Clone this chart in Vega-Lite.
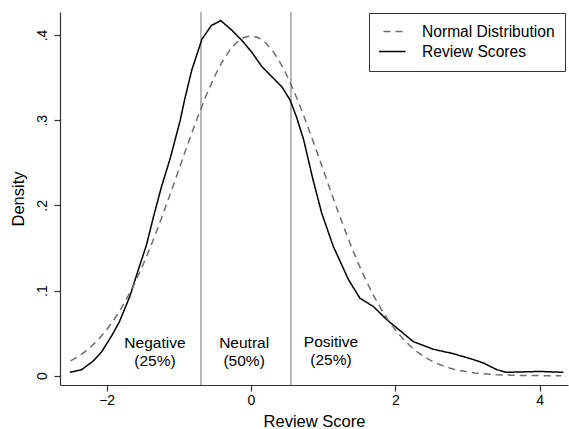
{
  "$schema": "https://vega.github.io/schema/vega-lite/v6.json",
  "width": 508,
  "height": 373,
  "autosize": "none",
  "padding": {"left": 60, "top": 12, "right": 1, "bottom": 44},
  "background": "white",
  "config": {
    "view": {"stroke": null},
    "font": "Liberation Sans",
    "axis": {
      "domainColor": "#333",
      "domainWidth": 1.2,
      "tickColor": "#333",
      "tickWidth": 1.2,
      "tickSize": 6,
      "grid": false,
      "labelFont": "Liberation Sans",
      "labelFontSize": 14,
      "labelColor": "#000",
      "titleFont": "Liberation Sans",
      "titleFontSize": 16.5,
      "titleFontWeight": "normal",
      "titleColor": "#000",
      "labelOverlap": false
    },
    "legend": {
      "orient": "none",
      "legendX": 309,
      "legendY": 1,
      "direction": "vertical",
      "strokeColor": "#333",
      "fillColor": "white",
      "padding": 10,
      "symbolType": "stroke",
      "symbolSize": 1156,
      "symbolStrokeWidth": 1.5,
      "symbolOffset": -8.5,
      "labelOffset": 15.5,
      "clipHeight": 17,
      "rowPadding": 2,
      "labelFont": "Liberation Sans",
      "labelFontSize": 15.6,
      "labelColor": "#000",
      "labelLimit": 300
    }
  },
  "datasets": {
    "curves": [
      {"x": -2.51, "y": 0.004, "series": "Review Scores"},
      {"x": -2.35, "y": 0.007, "series": "Review Scores"},
      {"x": -2.19, "y": 0.017, "series": "Review Scores"},
      {"x": -2.07, "y": 0.028, "series": "Review Scores"},
      {"x": -1.93, "y": 0.047, "series": "Review Scores"},
      {"x": -1.82, "y": 0.064, "series": "Review Scores"},
      {"x": -1.68, "y": 0.093, "series": "Review Scores"},
      {"x": -1.54, "y": 0.130, "series": "Review Scores"},
      {"x": -1.45, "y": 0.153, "series": "Review Scores"},
      {"x": -1.35, "y": 0.187, "series": "Review Scores"},
      {"x": -1.24, "y": 0.222, "series": "Review Scores"},
      {"x": -1.12, "y": 0.255, "series": "Review Scores"},
      {"x": -0.98, "y": 0.300, "series": "Review Scores"},
      {"x": -0.92, "y": 0.324, "series": "Review Scores"},
      {"x": -0.82, "y": 0.359, "series": "Review Scores"},
      {"x": -0.68, "y": 0.395, "series": "Review Scores"},
      {"x": -0.55, "y": 0.411, "series": "Review Scores"},
      {"x": -0.42, "y": 0.417, "series": "Review Scores"},
      {"x": -0.27, "y": 0.406, "series": "Review Scores"},
      {"x": -0.13, "y": 0.394, "series": "Review Scores"},
      {"x": 0.01, "y": 0.380, "series": "Review Scores"},
      {"x": 0.15, "y": 0.363, "series": "Review Scores"},
      {"x": 0.29, "y": 0.351, "series": "Review Scores"},
      {"x": 0.43, "y": 0.339, "series": "Review Scores"},
      {"x": 0.54, "y": 0.324, "series": "Review Scores"},
      {"x": 0.63, "y": 0.304, "series": "Review Scores"},
      {"x": 0.73, "y": 0.277, "series": "Review Scores"},
      {"x": 0.86, "y": 0.230, "series": "Review Scores"},
      {"x": 0.98, "y": 0.191, "series": "Review Scores"},
      {"x": 1.14, "y": 0.152, "series": "Review Scores"},
      {"x": 1.35, "y": 0.113, "series": "Review Scores"},
      {"x": 1.51, "y": 0.091, "series": "Review Scores"},
      {"x": 1.70, "y": 0.081, "series": "Review Scores"},
      {"x": 1.88, "y": 0.066, "series": "Review Scores"},
      {"x": 2.25, "y": 0.040, "series": "Review Scores"},
      {"x": 2.53, "y": 0.031, "series": "Review Scores"},
      {"x": 2.80, "y": 0.026, "series": "Review Scores"},
      {"x": 3.08, "y": 0.019, "series": "Review Scores"},
      {"x": 3.22, "y": 0.015, "series": "Review Scores"},
      {"x": 3.41, "y": 0.007, "series": "Review Scores"},
      {"x": 3.54, "y": 0.004, "series": "Review Scores"},
      {"x": 4.01, "y": 0.005, "series": "Review Scores"},
      {"x": 4.33, "y": 0.004, "series": "Review Scores"},
      {"x": -2.5, "y": 0.0175, "series": "Normal Distribution"},
      {"x": -2.4, "y": 0.0224, "series": "Normal Distribution"},
      {"x": -2.3, "y": 0.0283, "series": "Normal Distribution"},
      {"x": -2.2, "y": 0.0355, "series": "Normal Distribution"},
      {"x": -2.1, "y": 0.0440, "series": "Normal Distribution"},
      {"x": -2.0, "y": 0.0540, "series": "Normal Distribution"},
      {"x": -1.9, "y": 0.0656, "series": "Normal Distribution"},
      {"x": -1.8, "y": 0.0790, "series": "Normal Distribution"},
      {"x": -1.7, "y": 0.0940, "series": "Normal Distribution"},
      {"x": -1.6, "y": 0.1109, "series": "Normal Distribution"},
      {"x": -1.5, "y": 0.1295, "series": "Normal Distribution"},
      {"x": -1.4, "y": 0.1497, "series": "Normal Distribution"},
      {"x": -1.3, "y": 0.1714, "series": "Normal Distribution"},
      {"x": -1.2, "y": 0.1942, "series": "Normal Distribution"},
      {"x": -1.1, "y": 0.2179, "series": "Normal Distribution"},
      {"x": -1.0, "y": 0.2420, "series": "Normal Distribution"},
      {"x": -0.9, "y": 0.2661, "series": "Normal Distribution"},
      {"x": -0.8, "y": 0.2897, "series": "Normal Distribution"},
      {"x": -0.7, "y": 0.3123, "series": "Normal Distribution"},
      {"x": -0.6, "y": 0.3332, "series": "Normal Distribution"},
      {"x": -0.5, "y": 0.3521, "series": "Normal Distribution"},
      {"x": -0.4, "y": 0.3683, "series": "Normal Distribution"},
      {"x": -0.3, "y": 0.3814, "series": "Normal Distribution"},
      {"x": -0.2, "y": 0.3910, "series": "Normal Distribution"},
      {"x": -0.1, "y": 0.3970, "series": "Normal Distribution"},
      {"x": 0.0, "y": 0.3989, "series": "Normal Distribution"},
      {"x": 0.1, "y": 0.3970, "series": "Normal Distribution"},
      {"x": 0.2, "y": 0.3910, "series": "Normal Distribution"},
      {"x": 0.3, "y": 0.3814, "series": "Normal Distribution"},
      {"x": 0.4, "y": 0.3683, "series": "Normal Distribution"},
      {"x": 0.5, "y": 0.3521, "series": "Normal Distribution"},
      {"x": 0.6, "y": 0.3332, "series": "Normal Distribution"},
      {"x": 0.7, "y": 0.3123, "series": "Normal Distribution"},
      {"x": 0.8, "y": 0.2897, "series": "Normal Distribution"},
      {"x": 0.9, "y": 0.2661, "series": "Normal Distribution"},
      {"x": 1.0, "y": 0.2420, "series": "Normal Distribution"},
      {"x": 1.1, "y": 0.2179, "series": "Normal Distribution"},
      {"x": 1.2, "y": 0.1942, "series": "Normal Distribution"},
      {"x": 1.3, "y": 0.1714, "series": "Normal Distribution"},
      {"x": 1.4, "y": 0.1497, "series": "Normal Distribution"},
      {"x": 1.5, "y": 0.1295, "series": "Normal Distribution"},
      {"x": 1.6, "y": 0.1109, "series": "Normal Distribution"},
      {"x": 1.7, "y": 0.0940, "series": "Normal Distribution"},
      {"x": 1.8, "y": 0.0790, "series": "Normal Distribution"},
      {"x": 1.9, "y": 0.0656, "series": "Normal Distribution"},
      {"x": 2.0, "y": 0.0540, "series": "Normal Distribution"},
      {"x": 2.1, "y": 0.0440, "series": "Normal Distribution"},
      {"x": 2.2, "y": 0.0355, "series": "Normal Distribution"},
      {"x": 2.3, "y": 0.0283, "series": "Normal Distribution"},
      {"x": 2.4, "y": 0.0224, "series": "Normal Distribution"},
      {"x": 2.5, "y": 0.0175, "series": "Normal Distribution"},
      {"x": 2.6, "y": 0.0136, "series": "Normal Distribution"},
      {"x": 2.7, "y": 0.0104, "series": "Normal Distribution"},
      {"x": 2.8, "y": 0.0079, "series": "Normal Distribution"},
      {"x": 2.9, "y": 0.0060, "series": "Normal Distribution"},
      {"x": 3.0, "y": 0.0044, "series": "Normal Distribution"},
      {"x": 3.1, "y": 0.0033, "series": "Normal Distribution"},
      {"x": 3.2, "y": 0.0024, "series": "Normal Distribution"},
      {"x": 3.3, "y": 0.0017, "series": "Normal Distribution"},
      {"x": 3.4, "y": 0.0012, "series": "Normal Distribution"},
      {"x": 3.5, "y": 0.0009, "series": "Normal Distribution"},
      {"x": 3.6, "y": 0.0006, "series": "Normal Distribution"},
      {"x": 3.7, "y": 0.0004, "series": "Normal Distribution"},
      {"x": 3.8, "y": 0.0003, "series": "Normal Distribution"},
      {"x": 3.9, "y": 0.0002, "series": "Normal Distribution"},
      {"x": 4.0, "y": 0.0001, "series": "Normal Distribution"},
      {"x": 4.1, "y": 0.0001, "series": "Normal Distribution"},
      {"x": 4.2, "y": 0.0001, "series": "Normal Distribution"},
      {"x": 4.3, "y": 0.0000, "series": "Normal Distribution"}
    ],
    "cutoffs": [
      {"x": -0.693},
      {"x": 0.554}
    ],
    "labels": [
      {"x": -1.331, "y": 0.0330, "label": "Negative"},
      {"x": -1.331, "y": 0.0113, "label": "(25%)"},
      {"x": -0.095, "y": 0.0330, "label": "Neutral"},
      {"x": -0.095, "y": 0.0113, "label": "(50%)"},
      {"x": 1.109, "y": 0.0340, "label": "Positive"},
      {"x": 1.109, "y": 0.0126, "label": "(25%)"}
    ]
  },
  "layer": [
    {
      "data": {"name": "cutoffs"},
      "mark": {"type": "rule", "color": "#a0a0a0", "strokeWidth": 1.5},
      "encoding": {
        "x": {"field": "x", "type": "quantitative", "scale": {"domain": [-2.647, 4.394], "nice": false, "zero": false}}
      }
    },
    {
      "data": {"name": "curves"},
      "mark": {"type": "line", "strokeWidth": 1.5, "interpolate": "linear"},
      "encoding": {
        "x": {
          "field": "x", "type": "quantitative",
          "scale": {"domain": [-2.647, 4.394], "nice": false, "zero": false},
          "axis": {"values": [-2, 0, 2, 4], "format": "d", "title": "Review Score", "labelPadding": 2, "titleY": 41, "titleBaseline": "alphabetic"}
        },
        "y": {
          "field": "y", "type": "quantitative",
          "scale": {"domain": [-0.0109, 0.427], "nice": false, "zero": false},
          "axis": {
            "values": [0, 0.1, 0.2, 0.3, 0.4],
            "title": "Density",
            "labelExpr": "datum.value == 0 ? '0' : replace(format(datum.value, '.1f'), '0.', '.')",
            "labelAngle": -90,
            "labelAlign": "center",
            "labelBaseline": "alphabetic",
            "labelPadding": 8,
            "titleAngle": -90,
            "titleX": -37,
            "titleBaseline": "alphabetic"
          }
        },
        "color": {
          "field": "series", "type": "nominal",
          "scale": {"domain": ["Normal Distribution", "Review Scores"], "range": ["#6e6e6e", "#000000"]},
          "legend": {"title": null}
        },
        "strokeDash": {
          "field": "series", "type": "nominal",
          "scale": {"domain": ["Normal Distribution", "Review Scores"], "range": [[7, 5], [1, 0]]},
          "legend": {"title": null}
        }
      }
    },
    {
      "data": {"name": "labels"},
      "mark": {"type": "text", "align": "center", "baseline": "alphabetic", "font": "Liberation Sans", "fontSize": 15.5, "color": "#000"},
      "encoding": {
        "x": {"field": "x", "type": "quantitative"},
        "y": {"field": "y", "type": "quantitative"},
        "text": {"field": "label", "type": "nominal"}
      }
    }
  ]
}
